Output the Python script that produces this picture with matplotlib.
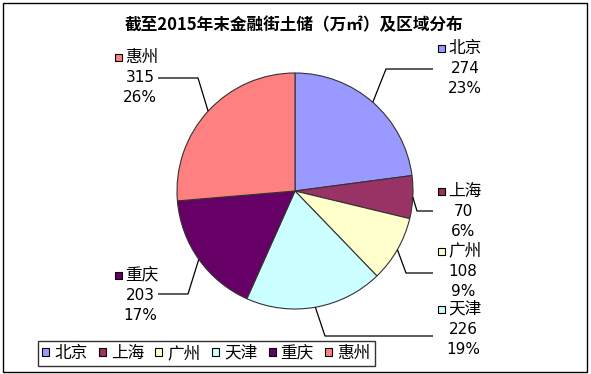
import numpy as np
import matplotlib
matplotlib.use("Agg")
import matplotlib.pyplot as plt
from matplotlib.patches import Rectangle

# 数据
cities = ['北京', '上海', '广州', '天津', '重庆', '惠州']
values = [274, 70, 108, 226, 203, 315]
colors = ['#9999FF', '#993366', '#FFFFCC', '#CCFFFF', '#660066', '#FF8080']
title = '截至2015年末金融街土储（万㎡）及区域分布'

# 布局 (像素, y 向下)
W, H = 591, 374
center = (295, 191)
radius = 118
# 标签块: (名称行左端 x, 名称行 y, 数字中心 x), 引线拐点 (x, y), 引线终点 x
label_pos = [(448, 48, 465), (448, 191, 463), (448, 251, 463),
             (448, 309, 463), (125, 275, 140), (125, 57, 140)]
elbows = [(386, 69), (417, 211), (406, 273), (325, 336), (188, 294), (198, 78)]
line_ends = [433, 433, 433, 433, 158, 158]

cjk = ['Noto Sans CJK SC', 'DejaVu Sans']
num = ['DejaVu Sans', 'Noto Sans CJK SC']

def Y(y):
    return H - y

fig = plt.figure(figsize=(W / 100, H / 100), dpi=100)
ax = fig.add_axes([0, 0, 1, 1])

wedges, _ = ax.pie(values, colors=colors, startangle=90, counterclock=False,
                   center=(center[0], Y(center[1])), radius=radius,
                   wedgeprops=dict(edgecolor='#333333', linewidth=0.8))
ax.set_xlim(0, W)
ax.set_ylim(0, H)
ax.set_aspect('auto')
ax.axis('off')

total = sum(values)
for i, w in enumerate(wedges):
    mid = np.deg2rad((w.theta1 + w.theta2) / 2)
    ax_x = center[0] + radius * np.cos(mid)
    ax_y = Y(center[1]) + radius * np.sin(mid)
    ex, ey = elbows[i]
    ax.plot([ax_x, ex, line_ends[i]], [ax_y, Y(ey), Y(ey)],
            color='black', linewidth=0.9, solid_capstyle='butt')

    lx, ly, cx = label_pos[i]
    ax.add_patch(Rectangle((lx - 10, Y(ly) - 3.5), 7, 7, facecolor=colors[i],
                           edgecolor='black', linewidth=0.8))
    ax.text(lx, Y(ly), cities[i], family=cjk, fontsize=12,
            ha='left', va='center')
    pct = round(values[i] / total * 100)
    ax.text(cx, Y(ly + 20), str(values[i]), family=num, fontsize=11,
            ha='center', va='center')
    ax.text(cx, Y(ly + 40), f'{pct}%', family=num, fontsize=11,
            ha='center', va='center')

ax.text(294, Y(25), title, family=cjk, fontsize=12, fontweight='bold',
        ha='center', va='center')

# 图例
leg = ax.legend(wedges, cities, loc='lower left',
                bbox_to_anchor=(38 / W, Y(366) / H), ncol=6,
                prop={'family': cjk, 'size': 12}, frameon=True, fancybox=False,
                edgecolor='black', handlelength=0.42, handleheight=0.42,
                handletextpad=0.3, columnspacing=0.68, borderpad=0.25,
                borderaxespad=0)
leg.get_frame().set_linewidth(1.0)
for h in leg.legend_handles:
    h.set_edgecolor('black')
    h.set_linewidth(0.8)

# 外边框
ax.add_patch(Rectangle((3, Y(372)), 584, 369, fill=False,
                       edgecolor='black', linewidth=1.0))

fig.savefig('out.png', dpi=100)
